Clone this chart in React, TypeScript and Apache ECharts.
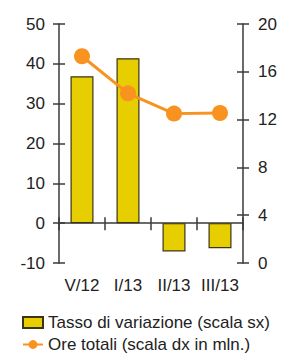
import React, { useEffect, useRef } from "react";
import * as echarts from "echarts";

const categories = ["V/12", "I/13", "II/13", "III/13"];
const rateValues = [36.9, 41.4, -7.1, -6.3];
const hoursValues = [17.3, 14.2, 12.5, 12.55];
const leftTicks = { min: -10, max: 50, interval: 10 };
const rightTicks = { min: 0, max: 20, interval: 4 };
const seriesNames = ["Tasso di variazione (scala sx)", "Ore totali (scala dx in mln.)"];

const FONT = "Liberation Sans";
const AXIS = "#3a3a3a";
const TEXT = "#222222";

export default function App() {
  const ref = useRef<HTMLDivElement>(null);
  useEffect(() => {
    if (!ref.current) return;
    const chart = echarts.init(ref.current, undefined, { renderer: "svg" });
    const hidden = { show: false };
    const tickStyle = { color: AXIS, width: 1.5 };
    chart.setOption({
      animation: false,
      textStyle: { fontFamily: FONT },
      grid: { left: 59, right: 38, top: 24, bottom: 90, containLabel: false },
      legend: {
        orient: "vertical",
        left: 22,
        top: 314,
        padding: 0,
        itemWidth: 20,
        itemHeight: 11,
        itemGap: 5,
        textStyle: { fontFamily: FONT, fontSize: 17, lineHeight: 17, color: TEXT },
        data: [{ name: seriesNames[0], icon: "rect" }, { name: seriesNames[1] }],
      },
      xAxis: [
        {
          type: "category",
          data: categories,
          position: "bottom",
          axisLine: { show: true, onZero: true, onZeroAxisIndex: 0, lineStyle: tickStyle },
          axisTick: { show: true, interval: 0, length: 7, lineStyle: tickStyle },
          axisLabel: hidden,
          splitLine: hidden,
        },
        {
          type: "category",
          data: categories,
          position: "top",
          axisLine: { show: true, onZero: true, onZeroAxisIndex: 0, lineStyle: { color: AXIS, width: 1, opacity: 0 } },
          axisTick: { show: true, interval: 0, length: 6, lineStyle: tickStyle },
          axisLabel: hidden,
          splitLine: hidden,
        },
        {
          type: "category",
          data: categories,
          position: "bottom",
          axisLine: { show: false, onZero: false },
          axisTick: hidden,
          axisLabel: { show: true, interval: 0, margin: 14, fontFamily: FONT, fontSize: 17, color: TEXT },
          splitLine: hidden,
        },
      ],
      yAxis: [
        {
          type: "value",
          position: "left",
          ...leftTicks,
          axisLine: { show: true, lineStyle: tickStyle },
          axisTick: { show: true, length: 6, lineStyle: tickStyle },
          axisLabel: { margin: 14, fontFamily: FONT, fontSize: 17, color: TEXT },
          splitLine: hidden,
        },
        {
          type: "value",
          position: "right",
          ...rightTicks,
          axisLine: { show: true, onZero: false, lineStyle: tickStyle },
          axisTick: { show: true, length: 6, lineStyle: tickStyle },
          axisLabel: { margin: 15, fontFamily: FONT, fontSize: 17, color: TEXT },
          splitLine: hidden,
        },
        {
          type: "value",
          position: "left",
          ...leftTicks,
          axisLine: { show: true, onZero: false, lineStyle: { color: AXIS, opacity: 0 } },
          axisTick: { show: true, inside: true, length: 6, lineStyle: tickStyle },
          axisLabel: hidden,
          splitLine: hidden,
        },
        {
          type: "value",
          position: "right",
          ...rightTicks,
          axisLine: { show: true, onZero: false, lineStyle: { color: AXIS, opacity: 0 } },
          axisTick: { show: true, inside: true, length: 6, lineStyle: tickStyle },
          axisLabel: hidden,
          splitLine: hidden,
        },
      ],
      series: [
        {
          name: seriesNames[0],
          type: "bar",
          xAxisIndex: 0,
          yAxisIndex: 0,
          data: rateValues,
          barWidth: "50%",
          itemStyle: { color: "#E6CE00", borderColor: "#3b3418", borderWidth: 1.2 },
        },
        {
          name: seriesNames[1],
          type: "line",
          xAxisIndex: 0,
          yAxisIndex: 1,
          data: hoursValues,
          symbol: "circle",
          symbolSize: 16,
          lineStyle: { color: "#F7931E", width: 3 },
          itemStyle: { color: "#F7931E" },
          z: 5,
        },
      ],
    });
    return () => chart.dispose();
  }, []);
  return <div ref={ref} style={{ width: 281, height: 353, position: "absolute", left: 0, top: 0 }} />;
}
